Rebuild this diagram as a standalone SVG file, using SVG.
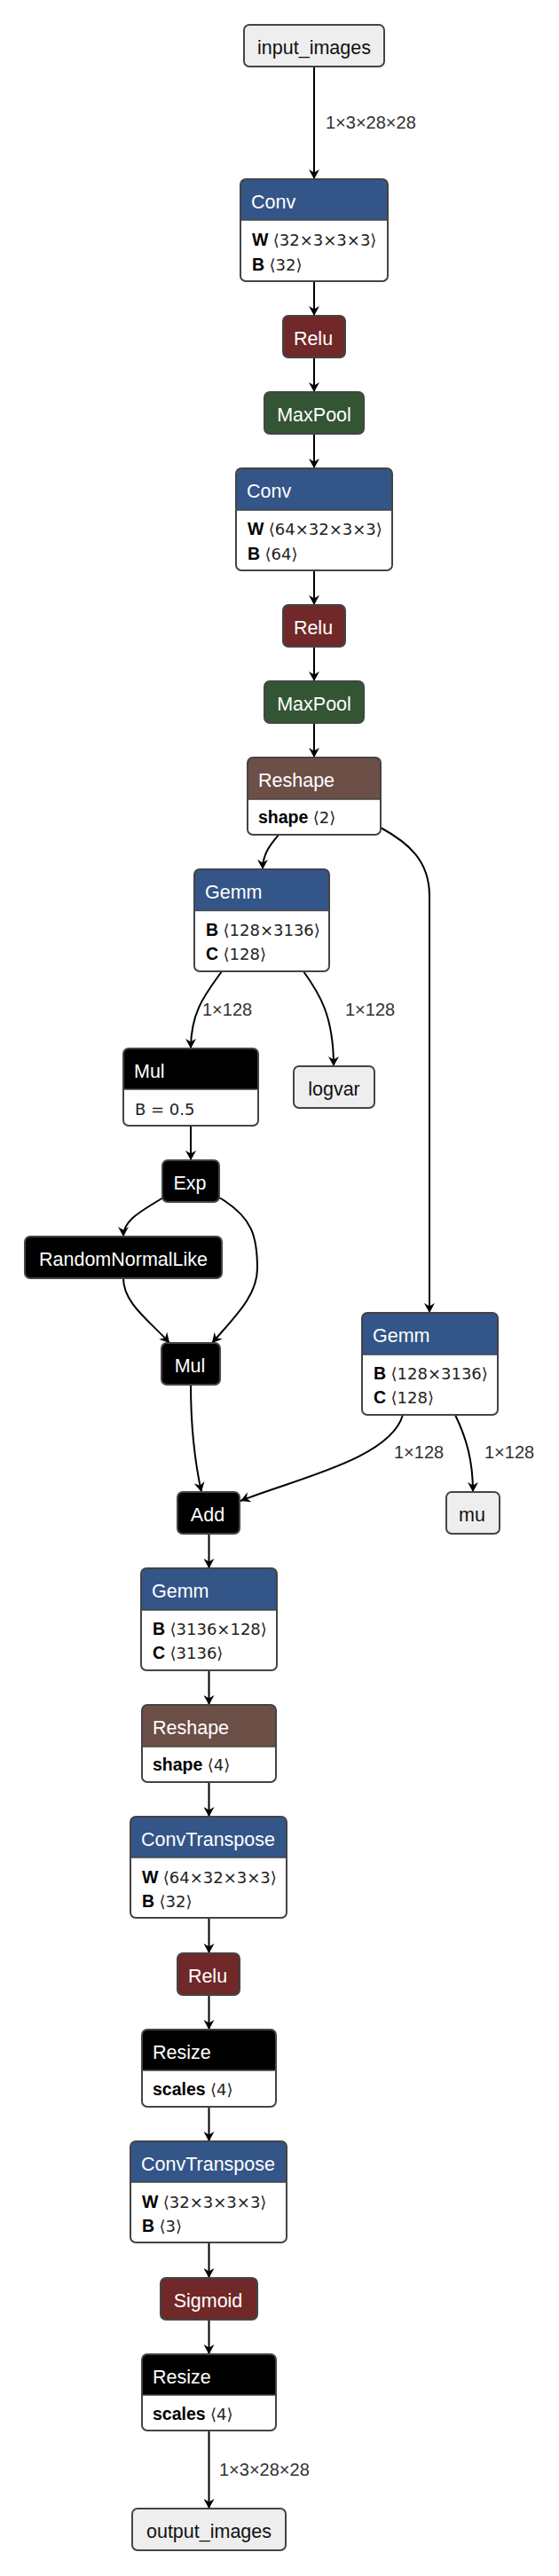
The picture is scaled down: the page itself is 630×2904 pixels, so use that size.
<svg xmlns="http://www.w3.org/2000/svg" width="630" height="2904" viewBox="0 0 630 2904">
<style>
.bg{fill:#fff}
.nb{fill:none;stroke:#444;stroke-width:2}
.sep{stroke:#444;stroke-width:1.6}
.body{fill:#fff}
.io{fill:#eee}
.layer{fill:#335588}
.act{fill:#702828}
.pool{fill:#335533}
.shape{fill:#6C4F47}
.blk{fill:#000}
.t{font-family:"Liberation Sans",Arial,sans-serif;font-size:21.5px;fill:#fff}
.tc{text-anchor:middle}
.td{fill:#111}
.a{font-family:"Liberation Sans",Arial,sans-serif;font-size:19.5px;fill:#000}
.a .n{font-weight:bold}
.a .v{font-family:"DejaVu Sans","Liberation Sans",sans-serif;font-size:18px;fill:#222}
.e{fill:none;stroke:#000;stroke-width:2;marker-end:url(#arr)}
.el{font-family:"Liberation Sans",Arial,sans-serif;font-size:20px;fill:#333}
</style>
<defs>
<marker id="arr" markerUnits="userSpaceOnUse" markerWidth="12" markerHeight="12" refX="11" refY="6" orient="auto">
<path d="M0,0 L11,6 L0,12 L3.5,6 z" fill="#000"/>
</marker>
</defs>
<rect class="bg" x="0" y="0" width="630" height="2904"/>

<g id="connectors">
<path class="e" d="M354,75 L354,202"/>
<path class="e" d="M354,317 L354,356"/>
<path class="e" d="M354,403 L354,442"/>
<path class="e" d="M354,489 L354,528"/>
<path class="e" d="M354,643 L354,682"/>
<path class="e" d="M354,729 L354,768"/>
<path class="e" d="M354,815 L354,854"/>
<path class="e" d="M315,940 C305,952 296,962 296,980"/>
<path class="e" d="M429,933 C460,950 484,970 484,1010 L484,1480"/>
<path class="e" d="M250,1095 C232,1120 215,1140 215,1182"/>
<path class="e" d="M342,1095 C360,1120 376,1145 376,1202"/>
<path class="e" d="M215,1269 L215,1308"/>
<path class="e" d="M184,1350 C160,1365 139,1375 139,1394"/>
<path class="e" d="M247,1350 C285,1372 290,1395 290,1430 C290,1462 262,1487 239,1514"/>
<path class="e" d="M139,1441 C139,1470 170,1490 191,1514"/>
<path class="e" d="M215,1561 C215,1610 220,1650 227,1682"/>
<path class="e" d="M454,1595 C440,1645 330,1668 271,1692"/>
<path class="e" d="M513,1595 C525,1620 533,1645 533,1682"/>
<path class="e" d="M235.5,1729 L235.5,1768"/>
<path class="e" d="M235.5,1883 L235.5,1922"/>
<path class="e" d="M235.5,2009 L235.5,2048"/>
<path class="e" d="M235.5,2162 L235.5,2202"/>
<path class="e" d="M235.5,2249 L235.5,2288"/>
<path class="e" d="M235.5,2375 L235.5,2414"/>
<path class="e" d="M235.5,2528 L235.5,2568"/>
<path class="e" d="M235.5,2615 L235.5,2654"/>
<path class="e" d="M235.5,2740 L235.5,2828"/>
<text class="el" x="367" y="145">1×3×28×28</text>
<text class="el" x="228" y="1145">1×128</text>
<text class="el" x="389" y="1145">1×128</text>
<text class="el" x="444" y="1644">1×128</text>
<text class="el" x="546" y="1644">1×128</text>
<text class="el" x="247" y="2791">1×3×28×28</text>
</g>

<g id="input_images">
<rect class="io" x="275" y="28" width="158" height="47" rx="6"/>
<rect class="nb" x="275" y="28" width="158" height="47" rx="6"/>
<text class="t tc td" x="354" y="61">input_images</text>
</g>

<g id="conv1">
<rect class="body" x="271" y="202" width="166" height="115" rx="6"/>
<path class="layer" d="M271,248 V208 Q271,202 277,202 H431 Q437,202 437,208 V248 Z"/>
<line class="sep" x1="271" y1="248" x2="437" y2="248"/>
<rect class="nb" x="271" y="202" width="166" height="115" rx="6"/>
<text class="t" x="283" y="235">Conv</text>
<text class="a" x="284" y="277"><tspan class="n">W</tspan> <tspan class="v">⟨32×3×3×3⟩</tspan></text>
<text class="a" x="284" y="304.5"><tspan class="n">B</tspan> <tspan class="v">⟨32⟩</tspan></text>
</g>

<g id="relu1">
<rect class="act" x="319" y="356" width="70" height="47" rx="6"/>
<rect class="nb" x="319" y="356" width="70" height="47" rx="6"/>
<text class="t tc" x="353" y="389">Relu</text>
</g>

<g id="maxpool1">
<rect class="pool" x="298" y="442" width="112" height="47" rx="6"/>
<rect class="nb" x="298" y="442" width="112" height="47" rx="6"/>
<text class="t tc" x="354" y="475">MaxPool</text>
</g>

<g id="conv2">
<rect class="body" x="266" y="528" width="176" height="115" rx="6"/>
<path class="layer" d="M266,575 V534 Q266,528 272,528 H436 Q442,528 442,534 V575 Z"/>
<line class="sep" x1="266" y1="575" x2="442" y2="575"/>
<rect class="nb" x="266" y="528" width="176" height="115" rx="6"/>
<text class="t" x="278" y="561">Conv</text>
<text class="a" x="279" y="603"><tspan class="n">W</tspan> <tspan class="v">⟨64×32×3×3⟩</tspan></text>
<text class="a" x="279" y="631"><tspan class="n">B</tspan> <tspan class="v">⟨64⟩</tspan></text>
</g>

<g id="relu2">
<rect class="act" x="319" y="682" width="70" height="47" rx="6"/>
<rect class="nb" x="319" y="682" width="70" height="47" rx="6"/>
<text class="t tc" x="353" y="715">Relu</text>
</g>

<g id="maxpool2">
<rect class="pool" x="298" y="768" width="112" height="47" rx="6"/>
<rect class="nb" x="298" y="768" width="112" height="47" rx="6"/>
<text class="t tc" x="354" y="801">MaxPool</text>
</g>

<g id="reshape1">
<rect class="body" x="279" y="854" width="150" height="87" rx="6"/>
<path class="shape" d="M279,901 V860 Q279,854 285,854 H423 Q429,854 429,860 V901 Z"/>
<line class="sep" x1="279" y1="901" x2="429" y2="901"/>
<rect class="nb" x="279" y="854" width="150" height="87" rx="6"/>
<text class="t" x="291" y="887">Reshape</text>
<text class="a" x="291" y="928"><tspan class="n">shape</tspan> <tspan class="v">⟨2⟩</tspan></text>
</g>

<g id="gemm1">
<rect class="body" x="219" y="980" width="152" height="115" rx="6"/>
<path class="layer" d="M219,1026.5 V986 Q219,980 225,980 H365 Q371,980 371,986 V1026.5 Z"/>
<line class="sep" x1="219" y1="1026.5" x2="371" y2="1026.5"/>
<rect class="nb" x="219" y="980" width="152" height="115" rx="6"/>
<text class="t" x="231" y="1013">Gemm</text>
<text class="a" x="232" y="1054.5"><tspan class="n">B</tspan> <tspan class="v">⟨128×3136⟩</tspan></text>
<text class="a" x="232" y="1082"><tspan class="n">C</tspan> <tspan class="v">⟨128⟩</tspan></text>
</g>

<g id="mul1">
<rect class="body" x="139" y="1182" width="152" height="87" rx="6"/>
<path class="blk" d="M139,1228 V1188 Q139,1182 145,1182 H285 Q291,1182 291,1188 V1228 Z"/>
<line class="sep" x1="139" y1="1228" x2="291" y2="1228"/>
<rect class="nb" x="139" y="1182" width="152" height="87" rx="6"/>
<text class="t" x="151" y="1215">Mul</text>
<text class="a" x="152" y="1257"><tspan class="v">B = 0.5</tspan></text>
</g>

<g id="logvar">
<rect class="io" x="331" y="1202" width="91" height="47" rx="6"/>
<rect class="nb" x="331" y="1202" width="91" height="47" rx="6"/>
<text class="t tc td" x="376.5" y="1235">logvar</text>
</g>

<g id="exp">
<rect class="blk" x="183" y="1308" width="64" height="47" rx="6"/>
<rect class="nb" x="183" y="1308" width="64" height="47" rx="6"/>
<text class="t tc" x="214" y="1341">Exp</text>
</g>

<g id="randomnormallike">
<rect class="blk" x="28" y="1394" width="222" height="47" rx="6"/>
<rect class="nb" x="28" y="1394" width="222" height="47" rx="6"/>
<text class="t tc" x="139" y="1427">RandomNormalLike</text>
</g>

<g id="mul2">
<rect class="blk" x="182" y="1514" width="66" height="47" rx="6"/>
<rect class="nb" x="182" y="1514" width="66" height="47" rx="6"/>
<text class="t tc" x="214" y="1547">Mul</text>
</g>

<g id="gemm2">
<rect class="body" x="408" y="1480" width="153" height="115" rx="6"/>
<path class="layer" d="M408,1527 V1486 Q408,1480 414,1480 H555 Q561,1480 561,1486 V1527 Z"/>
<line class="sep" x1="408" y1="1527" x2="561" y2="1527"/>
<rect class="nb" x="408" y="1480" width="153" height="115" rx="6"/>
<text class="t" x="420" y="1513">Gemm</text>
<text class="a" x="421" y="1554.5"><tspan class="n">B</tspan> <tspan class="v">⟨128×3136⟩</tspan></text>
<text class="a" x="421" y="1582"><tspan class="n">C</tspan> <tspan class="v">⟨128⟩</tspan></text>
</g>

<g id="add">
<rect class="blk" x="200" y="1682" width="70" height="47" rx="6"/>
<rect class="nb" x="200" y="1682" width="70" height="47" rx="6"/>
<text class="t tc" x="234" y="1715">Add</text>
</g>

<g id="mu">
<rect class="io" x="503" y="1682" width="60" height="47" rx="6"/>
<rect class="nb" x="503" y="1682" width="60" height="47" rx="6"/>
<text class="t tc td" x="532" y="1715">mu</text>
</g>

<g id="gemm3">
<rect class="body" x="159" y="1768" width="153" height="115" rx="6"/>
<path class="layer" d="M159,1815 V1774 Q159,1768 165,1768 H306 Q312,1768 312,1774 V1815 Z"/>
<line class="sep" x1="159" y1="1815" x2="312" y2="1815"/>
<rect class="nb" x="159" y="1768" width="153" height="115" rx="6"/>
<text class="t" x="171" y="1801">Gemm</text>
<text class="a" x="172" y="1842.5"><tspan class="n">B</tspan> <tspan class="v">⟨3136×128⟩</tspan></text>
<text class="a" x="172" y="1870"><tspan class="n">C</tspan> <tspan class="v">⟨3136⟩</tspan></text>
</g>

<g id="reshape2">
<rect class="body" x="160" y="1922" width="151" height="87" rx="6"/>
<path class="shape" d="M160,1969 V1928 Q160,1922 166,1922 H305 Q311,1922 311,1928 V1969 Z"/>
<line class="sep" x1="160" y1="1969" x2="311" y2="1969"/>
<rect class="nb" x="160" y="1922" width="151" height="87" rx="6"/>
<text class="t" x="172" y="1955">Reshape</text>
<text class="a" x="172" y="1996"><tspan class="n">shape</tspan> <tspan class="v">⟨4⟩</tspan></text>
</g>

<g id="convtranspose1">
<rect class="body" x="147" y="2048" width="176" height="114" rx="6"/>
<path class="layer" d="M147,2094 V2054 Q147,2048 153,2048 H317 Q323,2048 323,2054 V2094 Z"/>
<line class="sep" x1="147" y1="2094" x2="323" y2="2094"/>
<rect class="nb" x="147" y="2048" width="176" height="114" rx="6"/>
<text class="t" x="159" y="2081">ConvTranspose</text>
<text class="a" x="160" y="2122.5"><tspan class="n">W</tspan> <tspan class="v">⟨64×32×3×3⟩</tspan></text>
<text class="a" x="160" y="2150"><tspan class="n">B</tspan> <tspan class="v">⟨32⟩</tspan></text>
</g>

<g id="relu3">
<rect class="act" x="200" y="2202" width="70" height="47" rx="6"/>
<rect class="nb" x="200" y="2202" width="70" height="47" rx="6"/>
<text class="t tc" x="234" y="2235">Relu</text>
</g>

<g id="resize1">
<rect class="body" x="160" y="2288" width="151" height="87" rx="6"/>
<path class="blk" d="M160,2334 V2294 Q160,2288 166,2288 H305 Q311,2288 311,2294 V2334 Z"/>
<line class="sep" x1="160" y1="2334" x2="311" y2="2334"/>
<rect class="nb" x="160" y="2288" width="151" height="87" rx="6"/>
<text class="t" x="172" y="2321">Resize</text>
<text class="a" x="172" y="2362"><tspan class="n">scales</tspan> <tspan class="v">⟨4⟩</tspan></text>
</g>

<g id="convtranspose2">
<rect class="body" x="147" y="2414" width="176" height="114" rx="6"/>
<path class="layer" d="M147,2460 V2420 Q147,2414 153,2414 H317 Q323,2414 323,2420 V2460 Z"/>
<line class="sep" x1="147" y1="2460" x2="323" y2="2460"/>
<rect class="nb" x="147" y="2414" width="176" height="114" rx="6"/>
<text class="t" x="159" y="2447">ConvTranspose</text>
<text class="a" x="160" y="2488.5"><tspan class="n">W</tspan> <tspan class="v">⟨32×3×3×3⟩</tspan></text>
<text class="a" x="160" y="2516"><tspan class="n">B</tspan> <tspan class="v">⟨3⟩</tspan></text>
</g>

<g id="sigmoid">
<rect class="act" x="181" y="2568" width="109" height="47" rx="6"/>
<rect class="nb" x="181" y="2568" width="109" height="47" rx="6"/>
<text class="t tc" x="234.5" y="2601">Sigmoid</text>
</g>

<g id="resize2">
<rect class="body" x="160" y="2654" width="151" height="86" rx="6"/>
<path class="blk" d="M160,2700 V2660 Q160,2654 166,2654 H305 Q311,2654 311,2660 V2700 Z"/>
<line class="sep" x1="160" y1="2700" x2="311" y2="2700"/>
<rect class="nb" x="160" y="2654" width="151" height="86" rx="6"/>
<text class="t" x="172" y="2687">Resize</text>
<text class="a" x="172" y="2728"><tspan class="n">scales</tspan> <tspan class="v">⟨4⟩</tspan></text>
</g>

<g id="output_images">
<rect class="io" x="149" y="2828" width="173" height="47" rx="6"/>
<rect class="nb" x="149" y="2828" width="173" height="47" rx="6"/>
<text class="t tc td" x="235.5" y="2861">output_images</text>
</g>
</svg>
